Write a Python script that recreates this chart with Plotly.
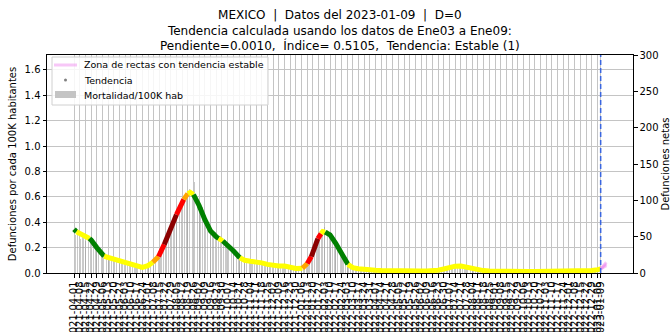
import pandas as pd
import plotly.graph_objects as go

START = pd.Timestamp("2021-04-01")
REPORT = pd.Timestamp("2023-01-09")

# Daily mortality per 100K inhabitants, sampled every second day from START
bar_days = list(range(0, 649, 2))
bar_vals = [
    0.36, 0.30, 0.33, 0.35, 0.27, 0.31, 0.30, 0.25, 0.29, 0.28, 0.24, 0.26, 0.22, 0.20, 0.21,
    0.19, 0.16, 0.17, 0.14, 0.15, 0.13, 0.12, 0.13, 0.11, 0.12, 0.10, 0.11, 0.09, 0.10, 0.09,
    0.10, 0.08, 0.09, 0.07, 0.08, 0.07, 0.08, 0.06, 0.07, 0.05, 0.06, 0.05, 0.05, 0.04, 0.05,
    0.06, 0.07, 0.08, 0.10, 0.11, 0.12, 0.15, 0.17, 0.19, 0.22, 0.26, 0.28, 0.30, 0.34, 0.37,
    0.38, 0.40, 0.43, 0.45, 0.47, 0.50, 0.52, 0.55, 0.57, 0.60, 0.62, 0.66, 0.70, 0.64, 0.72,
    0.61, 0.58, 0.56, 0.49, 0.52, 0.44, 0.43, 0.40, 0.36, 0.34, 0.33, 0.30, 0.32, 0.29, 0.28,
    0.29, 0.26, 0.25, 0.26, 0.22, 0.23, 0.21, 0.19, 0.18, 0.17, 0.15, 0.13, 0.12, 0.11, 0.10,
    0.11, 0.09, 0.10, 0.09, 0.10, 0.08, 0.09, 0.09, 0.08, 0.09, 0.08, 0.07, 0.08, 0.07, 0.07,
    0.06, 0.07, 0.06, 0.05, 0.06, 0.06, 0.05, 0.06, 0.05, 0.06, 0.05, 0.05, 0.04, 0.05, 0.04,
    0.04, 0.03, 0.04, 0.03, 0.04, 0.04, 0.05, 0.06, 0.08, 0.10, 0.12, 0.15, 0.18, 0.21, 0.25,
    0.28, 0.31, 0.30, 0.33, 0.36, 0.32, 0.34, 0.31, 0.30, 0.27, 0.25, 0.24, 0.21, 0.19, 0.17,
    0.15, 0.12, 0.10, 0.08, 0.07, 0.06, 0.05, 0.04, 0.04, 0.035, 0.03, 0.03, 0.03, 0.025, 0.03,
    0.025, 0.02, 0.025, 0.02, 0.02, 0.025, 0.02, 0.02, 0.018, 0.02, 0.018, 0.015, 0.02, 0.018, 0.015,
    0.018, 0.015, 0.017, 0.014, 0.016, 0.018, 0.015, 0.016, 0.014, 0.017, 0.015, 0.016, 0.013, 0.015, 0.016,
    0.014, 0.016, 0.015, 0.013, 0.016, 0.015, 0.017, 0.014, 0.016, 0.018, 0.017, 0.019, 0.02, 0.022, 0.024,
    0.027, 0.03, 0.034, 0.038, 0.04, 0.045, 0.048, 0.05, 0.055, 0.052, 0.058, 0.056, 0.054, 0.057, 0.053,
    0.05, 0.047, 0.045, 0.04, 0.038, 0.035, 0.032, 0.028, 0.026, 0.024, 0.021, 0.02, 0.018, 0.017, 0.016,
    0.016, 0.014, 0.015, 0.013, 0.014, 0.012, 0.013, 0.014, 0.012, 0.013, 0.011, 0.012, 0.013, 0.011, 0.012,
    0.013, 0.011, 0.012, 0.010, 0.012, 0.013, 0.011, 0.012, 0.010, 0.012, 0.011, 0.013, 0.012, 0.010, 0.011,
    0.012, 0.011, 0.013, 0.010, 0.012, 0.011, 0.012, 0.013, 0.010, 0.011, 0.012, 0.011, 0.013, 0.012, 0.011,
    0.012, 0.013, 0.011, 0.013, 0.012, 0.014, 0.013, 0.012, 0.015, 0.014, 0.013, 0.015, 0.016, 0.014, 0.016,
    0.018, 0.017, 0.019, 0.021, 0.020, 0.023, 0.026, 0.028, 0.030, 0.034,
]

# Smoothed trend; each code gives the trend class of the stretch that starts at that day
trend_days = [0, 3, 7, 14, 19, 21, 28, 35, 37, 42, 49, 56, 63, 70, 77, 84, 91, 97, 104, 111,
              119, 126, 135, 140, 143, 147, 154, 161, 168, 175, 178, 183, 189, 196, 204, 210,
              217, 224, 231, 238, 245, 252, 259, 266, 273, 281, 287, 292, 300, 304, 306, 309,
              315, 322, 329, 337, 343, 350, 357, 364, 371, 378, 385, 392, 399, 406, 413, 420,
              427, 434, 441, 448, 455, 462, 469, 476, 483, 490, 497, 504, 511, 518, 525, 532,
              539, 546, 553, 560, 567, 574, 581, 588, 595, 602, 609, 616, 623, 630, 637, 644, 648]
trend_vals = [0.344, 0.325, 0.312, 0.295, 0.272, 0.26, 0.20, 0.142, 0.132, 0.122, 0.108, 0.095,
              0.086, 0.075, 0.062, 0.044, 0.058, 0.085, 0.13, 0.225, 0.355, 0.46, 0.58, 0.625,
              0.635, 0.618, 0.53, 0.42, 0.33, 0.285, 0.272, 0.252, 0.22, 0.175, 0.12, 0.10,
              0.092, 0.088, 0.080, 0.068, 0.058, 0.056, 0.055, 0.046, 0.036, 0.038, 0.075, 0.13,
              0.27, 0.31, 0.326, 0.322, 0.30, 0.234, 0.155, 0.068, 0.042, 0.033, 0.027, 0.024,
              0.022, 0.020, 0.018, 0.017, 0.016, 0.016, 0.015, 0.015, 0.015, 0.016, 0.017, 0.022,
              0.032, 0.045, 0.054, 0.055, 0.045, 0.036, 0.026, 0.019, 0.016, 0.014, 0.013, 0.012,
              0.012, 0.012, 0.012, 0.012, 0.012, 0.012, 0.012, 0.012, 0.012, 0.012, 0.013, 0.014,
              0.015, 0.017, 0.020, 0.026, 0.032]
trend_codes = ["g", "y", "y", "y", "g", "g", "g", "g", "y", "y", "y", "y", "y", "y", "y", "y",
               "y", "o", "r", "dr", "dr", "r", "o", "y", "y", "g", "g", "g", "g", "g", "y", "g",
               "g", "g", "y", "y", "y", "y", "y", "y", "y", "y", "y", "y", "y", "o", "r", "dr",
               "r", "y", "y", "g", "g", "g", "g", "y", "y", "y", "y", "y", "y", "y", "y", "y",
               "y", "y", "y", "y", "y", "y", "y", "y", "y", "y", "y", "y", "y", "y", "y", "y",
               "y", "y", "y", "y", "y", "y", "y", "y", "y", "y", "y", "y", "y", "y", "y", "y",
               "y", "y", "y", "y", "y"]
palette = {"g": "#008000", "y": "#ffff00", "o": "#ffa500", "r": "#ff0000", "dr": "#8b0000"}

# Lines whose slope would still count as a stable trend, projected past the report date
stable_days = [648, 655]
stable_lines = [[0.032, 0.058], [0.032, 0.071], [0.032, 0.085]]

legend_labels = ["Zona de rectas con tendencia estable", "Tendencia", "Mortalidad/100K hab"]

PINK = "rgba(238,130,238,0.45)"
BAR_COLOR = "rgba(150,150,150,0.5)"


def to_date(days):
    return [START + pd.Timedelta(days=int(d)) for d in days]


tick_dates = list(pd.date_range(START, REPORT, freq="7D")) + [REPORT]
tick_text = [d.strftime("%Y-%m-%d") for d in tick_dates]

fig = go.Figure()

fig.add_trace(go.Bar(
    x=to_date(bar_days), y=bar_vals, width=86400000 * 1.0,
    marker=dict(color=BAR_COLOR, line=dict(width=0)),
    name=legend_labels[2], showlegend=False,
))

# Trend drawn stretch by stretch, coloured by class
i = 0
n = len(trend_days)
while i < n - 1:
    j = i
    while j + 1 < n - 1 and trend_codes[j + 1] == trend_codes[i]:
        j += 1
    seg = slice(i, j + 2)
    fig.add_trace(go.Scatter(
        x=to_date(trend_days[seg]), y=trend_vals[seg], mode="lines",
        line=dict(color=palette[trend_codes[i]], width=5),
        name=legend_labels[1], showlegend=False, hoverinfo="skip",
    ))
    i = j + 1

for line in stable_lines:
    fig.add_trace(go.Scatter(
        x=to_date(stable_days), y=line, mode="lines",
        line=dict(color=PINK, width=3),
        name=legend_labels[0], showlegend=False,
    ))

fig.add_trace(go.Scatter(
    x=[REPORT, REPORT], y=[0, 300], yaxis="y2", mode="lines",
    line=dict(color="#3a66e0", width=1.5, dash="5px,3px"),
    showlegend=False, hoverinfo="skip",
))

first = START - pd.Timedelta(hours=12)
last = START + pd.Timedelta(days=stable_days[-1])
pad = (last - first) * 0.05

fnt = "DejaVu Sans, Verdana, sans-serif"
sp = "\u00a0 "
title_txt = (
    f"MEXICO{sp}|{sp}Datos del 2023-01-09{sp}|{sp}D=0<br>"
    "Tendencia calculada usando los datos de Ene03 a Ene09:<br>"
    f"Pendiente=0.0010,{sp}Índice= 0.5105,{sp}Tendencia: Estable (1)"
)

fig.add_annotation(
    text=title_txt, x=0.5, xref="paper", xanchor="center",
    y=1, yref="paper", yanchor="bottom", yshift=0, showarrow=False,
    align="center", font=dict(size=12, family=fnt, color="#000000"),
)

# Legend box in the upper-left corner of the plot area (paper = plot-area fractions)
PW, PH = 586.0, 218.0


def px(x):
    return x / PW


def py(y):
    return 1 - y / PH


fig.add_shape(type="rect", xref="paper", yref="paper",
              x0=px(5), x1=px(221), y0=py(2), y1=py(50),
              line=dict(color="#d0d0d0", width=1), fillcolor="rgba(255,255,255,0.85)")
fig.add_shape(type="line", xref="paper", yref="paper",
              x0=px(7), x1=px(30), y0=py(10), y1=py(10),
              line=dict(color=PINK, width=3))
fig.add_shape(type="circle", xref="paper", yref="paper",
              x0=px(17), x1=px(20), y0=py(23.5), y1=py(26.5),
              line=dict(width=0), fillcolor="#808080")
fig.add_shape(type="rect", xref="paper", yref="paper",
              x0=px(8), x1=px(29), y0=py(36), y1=py(43),
              line=dict(width=0), fillcolor="#c4c4c4")
for k, lab in enumerate(legend_labels):
    fig.add_annotation(
        text=lab, x=px(35), xref="paper", xanchor="left",
        y=py(10 + 15 * k), yref="paper", yanchor="middle", showarrow=False,
        font=dict(size=9.5, family=fnt, color="#000000"),
    )

fig.update_layout(
    width=671, height=332,
    margin=dict(l=47, r=38, t=55, b=59),
    paper_bgcolor="white", plot_bgcolor="white",
    font=dict(family=fnt, size=10, color="#000000"),
    bargap=0,
    showlegend=False,
    xaxis=dict(
        type="date", range=[first - pad, last + pad],
        tickmode="array", tickvals=tick_dates, ticktext=tick_text,
        tickangle=-90, tickfont=dict(size=10),
        showgrid=True, gridcolor="#c4c4c4", gridwidth=1,
        showline=True, mirror=True, linecolor="black", linewidth=1,
        ticks="outside", ticklen=3.5, tickcolor="black", automargin=False,
        zeroline=False,
    ),
    yaxis=dict(
        range=[0, 1.717], tickmode="array",
        tickvals=[0, 0.2, 0.4, 0.6, 0.8, 1.0, 1.2, 1.4, 1.6],
        ticktext=["0.0", "0.2", "0.4", "0.6", "0.8", "1.0", "1.2", "1.4", "1.6"],
        showgrid=True, gridcolor="#c4c4c4", gridwidth=1,
        showline=True, mirror=True, linecolor="black", linewidth=1,
        ticks="outside", ticklen=3.5, tickcolor="black", zeroline=False,
        title=dict(text="Defunciones por cada 100K habitantes", font=dict(size=10), standoff=6),
        automargin=False,
    ),
    yaxis2=dict(
        overlaying="y", side="right", range=[0, 300],
        tickmode="array", tickvals=[0, 50, 100, 150, 200, 250, 300],
        showgrid=False, zeroline=False, ticks="outside", ticklen=3.5, tickcolor="black",
        title=dict(text="Defunciones netas", font=dict(size=10), standoff=6),
        automargin=False,
    ),
)

fig.write_html("out.html")
